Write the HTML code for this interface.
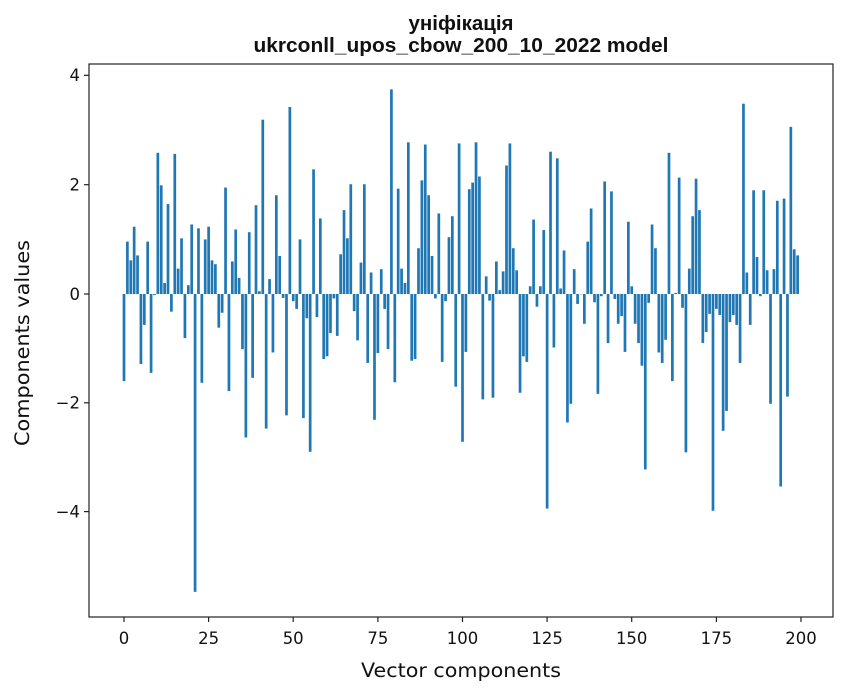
<!DOCTYPE html>
<html><head><meta charset="utf-8"><style>
body{margin:0;background:#fff;}
svg{display:block;font-family:"DejaVu Sans","Liberation Sans",sans-serif;}
</style></head><body>
<svg id="s" width="847" height="696" xmlns="http://www.w3.org/2000/svg">
<rect width="847" height="696" fill="#fff"/>
<g id="bars"></g>
<rect x="89" y="64" width="744" height="553" fill="none" stroke="#222" stroke-width="1.2"/>
<g stroke="#222" stroke-width="1.2">
<line x1="84" y1="75.3" x2="89" y2="75.3"/><line x1="84" y1="184.7" x2="89" y2="184.7"/><line x1="84" y1="294" x2="89" y2="294"/><line x1="84" y1="402.8" x2="89" y2="402.8"/><line x1="84" y1="511.6" x2="89" y2="511.6"/>
<line x1="124" y1="617" x2="124" y2="622"/><line x1="208.6" y1="617" x2="208.6" y2="622"/><line x1="293.2" y1="617" x2="293.2" y2="622"/><line x1="377.9" y1="617" x2="377.9" y2="622"/><line x1="462.5" y1="617" x2="462.5" y2="622"/><line x1="547.1" y1="617" x2="547.1" y2="622"/><line x1="631.7" y1="617" x2="631.7" y2="622"/><line x1="716.4" y1="617" x2="716.4" y2="622"/><line x1="801" y1="617" x2="801" y2="622"/>
</g>
<g font-size="16.5" fill="#111" text-anchor="end">
<text x="80" y="81">4</text><text x="80" y="190.5">2</text><text x="80" y="300">0</text><text x="80" y="408.5">−2</text><text x="80" y="517.5">−4</text>
</g>
<g font-size="16.5" fill="#111" text-anchor="middle">
<text x="124" y="644">0</text><text x="208.6" y="644">25</text><text x="293.2" y="644">50</text><text x="377.9" y="644">75</text><text x="462.5" y="644">100</text><text x="547.1" y="644">125</text><text x="631.7" y="644">150</text><text x="716.4" y="644">175</text><text x="801" y="644">200</text>
<text x="461" y="677" font-size="19.5" textLength="200" lengthAdjust="spacingAndGlyphs">Vector components</text>
</g>
<g fill="#111" font-family="Liberation Sans, Arial, sans-serif" font-weight="bold" font-size="20.5" text-anchor="middle">
<text x="461" y="30">уніфікація</text>
<text x="461" y="52" textLength="415" lengthAdjust="spacingAndGlyphs">ukrconll_upos_cbow_200_10_2022 model</text>
</g>
<text transform="translate(29,343) rotate(-90)" font-size="19.5" fill="#111" text-anchor="middle" textLength="206" lengthAdjust="spacingAndGlyphs">Components values</text>
</svg>
<script>
var v=[-1.58,0.95,0.61,1.22,0.70,-1.27,-0.56,0.95,-1.43,-0.02,2.56,1.97,0.2,1.63,-0.32,2.54,0.46,1.01,-0.8,0.16,1.26,-5.4,1.19,-1.61,0.99,1.22,0.61,0.54,-0.61,-0.34,1.93,-1.76,0.59,1.17,0.29,-1.0,-2.6,1.12,-1.52,1.61,0.05,3.16,-2.44,0.27,-1.06,1.79,0.69,-0.07,-2.2,3.39,
-0.13,-0.27,0.99,-2.25,-0.44,-2.86,2.26,-0.42,1.37,-1.18,-1.13,-0.71,-0.08,-0.76,0.72,1.52,1.01,1.99,-0.31,-0.84,0.57,1.99,-1.25,0.39,-2.28,-1.07,0.45,-0.27,-1.0,3.71,-1.6,1.91,0.46,0.2,2.75,-1.21,-1.18,0.83,2.06,2.71,1.79,0.69,-0.08,1.46,-1.23,-0.13,1.03,1.41,-1.68,2.73,
-2.68,-1.05,1.90,2.02,2.75,2.13,-1.91,0.32,-0.12,-1.88,0.59,0.07,0.41,2.33,2.73,0.83,0.43,-1.79,-1.13,-1.23,0.14,1.35,-0.23,0.14,1.16,-3.89,2.58,-0.97,2.46,0.10,0.79,-2.33,-1.99,0.45,-0.18,0.0,-0.54,0.95,1.55,-0.15,-1.81,-0.04,2.04,-0.89,1.86,-0.09,-0.54,-0.4,-1.05,1.31,
0.14,-0.54,-0.89,-1.30,-3.18,-0.16,1.26,0.83,-1.06,-1.25,-0.83,2.56,-1.58,0.02,2.11,-0.25,-2.87,0.46,1.41,2.09,1.52,-0.89,-0.69,-0.36,-3.93,-0.27,-0.38,-2.48,-2.12,-0.51,-0.38,-0.56,-1.25,3.45,0.39,-0.56,1.88,0.67,-0.04,1.88,0.43,-1.99,0.45,1.69,-3.49,1.73,-1.86,3.03,0.81,0.70];
var g=document.getElementById('bars'),h='';
for(var i=0;i<v.length;i++){var val=v[i]*1.014,px=val*54.4,x=124+3.385*i-1.35,y=px>0?294-px:294,hh=Math.max(Math.abs(px),0.3);
h+='<rect x="'+x.toFixed(2)+'" y="'+y.toFixed(2)+'" width="2.7" height="'+hh.toFixed(2)+'" fill="#1f77b4"/>';}
g.innerHTML=h;
</script>
</body></html>
